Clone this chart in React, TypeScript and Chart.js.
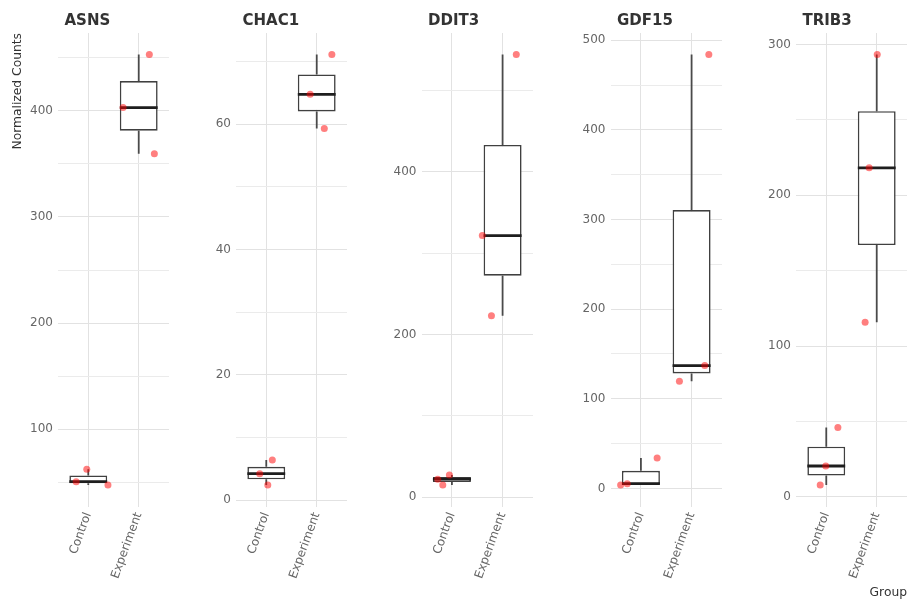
import React, { useEffect, useRef } from "react";
import { Chart, registerables } from "chart.js";

Chart.register(...registerables);

// ---------- data ----------
const genes = ["ASNS", "CHAC1", "DDIT3", "GDF15", "TRIB3"];
const groups = ["Control", "Experiment"];

// normalized counts per sample
const asnsControl = [62.3, 50.6, 47.5];
const asnsExperiment = [453, 403, 359.5];
const chac1Control = [6.4, 4.2, 2.4];
const chac1Experiment = [71.1, 64.75, 59.3];
const ddit3Control = [27.4, 22.2, 15.1];
const ddit3Experiment = [544, 321.6, 223];
const gdf15Control = [33.9, 5.2, 3.8];
const gdf15Experiment = [484, 137, 119.5];
const trib3Control = [46, 20.4, 7.8];
const trib3Experiment = [293.4, 218.2, 115.7];

// horizontal jitter of each sample point (in category units)
const asnsControlJitter = [-0.03, -0.24, 0.39];
const asnsExperimentJitter = [0.21, -0.31, 0.31];
const chac1ControlJitter = [0.12, -0.13, 0.03];
const chac1ExperimentJitter = [0.3, -0.13, 0.15];
const ddit3ControlJitter = [-0.05, -0.28, -0.18];
const ddit3ExperimentJitter = [0.27, -0.4, -0.22];
const gdf15ControlJitter = [0.32, -0.27, -0.4];
const gdf15ExperimentJitter = [0.34, 0.26, -0.24];
const trib3ControlJitter = [0.23, -0.01, -0.12];
const trib3ExperimentJitter = [0.01, -0.15, -0.23];

// labelled y tick step for each panel (minor grid at half step)
const yMajorStep = [100, 20, 200, 100, 100];

const samples = [
  [asnsControl, asnsExperiment],
  [chac1Control, chac1Experiment],
  [ddit3Control, ddit3Experiment],
  [gdf15Control, gdf15Experiment],
  [trib3Control, trib3Experiment],
];
const jitters = [
  [asnsControlJitter, asnsExperimentJitter],
  [chac1ControlJitter, chac1ExperimentJitter],
  [ddit3ControlJitter, ddit3ExperimentJitter],
  [gdf15ControlJitter, gdf15ExperimentJitter],
  [trib3ControlJitter, trib3ExperimentJitter],
];

// ---------- layout / style ----------
const FONT = '"DejaVu Sans", sans-serif';
const W = 909;
const H = 604;
const PANEL_TOP = 33;
const PANEL_BOTTOM = 506.5;
const panelLeft = [58, 236, 421.5, 610.5, 796];
const PANEL_W = 114;
const BOX_WIDTH = 0.75;
const MAJOR_GRID = "#e2e2e2";
const MINOR_GRID = "#ebebeb";
const AXIS_TITLE_SIZE = 12.3;

function quantile(sorted: number[], p: number) {
  const h = (sorted.length - 1) * p;
  const lo = Math.floor(h);
  const hi = Math.ceil(h);
  return sorted[lo] + (h - lo) * (sorted[hi] - sorted[lo]);
}

function boxStats(vals: number[]) {
  const s = [...vals].sort((a, b) => a - b);
  const q1 = quantile(s, 0.25);
  const med = quantile(s, 0.5);
  const q3 = quantile(s, 0.75);
  const iqr = q3 - q1;
  const inside = s.filter((v) => v >= q1 - 1.5 * iqr && v <= q3 + 1.5 * iqr);
  return { lo: Math.min(...inside), q1, med, q3, hi: Math.max(...inside) };
}

const panelTitlePlugin = {
  id: "panelTitle",
  afterDraw(chart: any, _args: any, opts: any) {
    const { ctx, chartArea } = chart;
    ctx.save();
    ctx.font = `bold 15px ${FONT}`;
    ctx.fillStyle = "#333333";
    ctx.textAlign = "left";
    ctx.textBaseline = "alphabetic";
    ctx.fillText(opts.text, chartArea.left + 6.5, chartArea.top - 8.5);
    ctx.restore();
  },
};

function Panel({ i }: { i: number }) {
  const ref = useRef<HTMLCanvasElement>(null);
  const isFirst = i === 0;
  const isLast = i === genes.length - 1;
  const axisW = isFirst ? panelLeft[i] : 45;
  const canvasLeft = Math.floor(panelLeft[i] - axisW);
  const yAxisW = panelLeft[i] - canvasLeft;
  const canvasW = Math.ceil(yAxisW + PANEL_W) + 1;
  const rightPad = canvasW - yAxisW - PANEL_W;

  useEffect(() => {
    if (!ref.current) return;
    const groupVals = samples[i];
    const stats = groupVals.map((v) => boxStats(v));
    const all = groupVals.flat();
    const lo = Math.min(...all);
    const hi = Math.max(...all);
    const pad = (hi - lo) * 0.05;
    const yMin = lo - pad;
    const yMax = hi + pad;
    const major = yMajorStep[i];
    const minor = major / 2;
    const yTicks: number[] = [];
    for (let v = Math.ceil(yMin / minor) * minor; v <= yMax; v += minor) yTicks.push(v);
    const isMajor = (v: number) => Math.abs(v % major) < 1e-9;

    const boxData = stats.map((s, g) => ({ x: g + 1, y: [s.q1, s.q3] }));
    const whiskerData: any[] = [];
    stats.forEach((s, g) => {
      whiskerData.push(
        { x: g + 1, y: s.q3 },
        { x: g + 1, y: s.hi },
        { x: g + 1, y: null },
        { x: g + 1, y: s.q1 },
        { x: g + 1, y: s.lo },
        { x: g + 1, y: null }
      );
    });
    const medianData: any[] = [];
    stats.forEach((s, g) => {
      medianData.push(
        { x: g + 1 - BOX_WIDTH / 2, y: s.med },
        { x: g + 1 + BOX_WIDTH / 2, y: s.med },
        { x: g + 1, y: null }
      );
    });
    const pointData: any[] = [];
    groupVals.forEach((vals, g) =>
      vals.forEach((v, k) => pointData.push({ x: g + 1 + jitters[i][g][k], y: v }))
    );

    const chart = new Chart(ref.current, {
      type: "scatter",
      data: {
        datasets: [
          {
            type: "scatter",
            data: pointData,
            backgroundColor: "rgba(255,0,0,0.5)",
            borderWidth: 0,
            pointRadius: 3.5,
            order: 1,
          } as any,
          {
            type: "line",
            data: medianData,
            borderColor: "#1e1e1e",
            borderWidth: 2.8,
            pointRadius: 0,
            fill: false,
            spanGaps: false,
            borderCapStyle: "butt",
            order: 2,
          } as any,
          {
            type: "bar",
            data: boxData,
            backgroundColor: "#ffffff",
            borderColor: "#404040",
            borderWidth: 1.6,
            borderSkipped: false,
            barPercentage: BOX_WIDTH,
            categoryPercentage: 1,
            order: 3,
          } as any,
          {
            type: "line",
            data: whiskerData,
            borderColor: "#4a4a4a",
            borderWidth: 1.8,
            pointRadius: 0,
            fill: false,
            spanGaps: false,
            borderCapStyle: "butt",
            order: 4,
          } as any,
        ],
      },
      options: {
        responsive: false,
        animation: false,
        events: [],
        layout: { padding: { top: PANEL_TOP, left: 0, right: rightPad, bottom: 0 } },
        plugins: {
          legend: { display: false },
          tooltip: { enabled: false },
          panelTitle: { text: genes[i] },
        } as any,
        scales: {
          x: {
            type: "linear",
            min: 0.4,
            max: 2.6,
            bounds: "data",
            offset: false,
            afterBuildTicks: (s: any) => {
              s.ticks = groups.map((_, g) => ({ value: g + 1 }));
            },
            afterFit: (s: any) => {
              s.height = H - PANEL_BOTTOM;
              s.paddingLeft = 0;
              s.paddingRight = 0;
            },
            ticks: {
              callback: (v: any) => groups[Math.round(Number(v)) - 1] ?? "",
              autoSkip: false,
              minRotation: 70,
              maxRotation: 70,
              padding: 4,
              color: "#666666",
              font: { size: 12, family: FONT },
            },
            grid: { color: MAJOR_GRID, lineWidth: 1, drawTicks: false, offset: false },
            border: { display: false },
            title: isLast
              ? {
                  display: true,
                  text: "Group",
                  align: "end",
                  color: "#333333",
                  font: { size: AXIS_TITLE_SIZE, family: FONT },
                  padding: { top: 0, bottom: 3.6 },
                }
              : { display: false },
          } as any,
          y: {
            type: "linear",
            min: yMin,
            max: yMax,
            bounds: "data",
            afterBuildTicks: (s: any) => {
              s.ticks = yTicks.map((v) => ({ value: v }));
            },
            afterFit: (s: any) => {
              s.width = yAxisW;
            },
            ticks: {
              callback: (v: any) => (isMajor(Number(v)) ? String(Math.round(Number(v))) : ""),
              autoSkip: false,
              padding: 5,
              color: "#666666",
              font: { size: 12, family: FONT },
            },
            grid: {
              color: (ctx: any) =>
                ctx.tick && !isMajor(ctx.tick.value) ? MINOR_GRID : MAJOR_GRID,
              lineWidth: 1,
              drawTicks: false,
              offset: false,
            },
            border: { display: false },
            title: isFirst
              ? {
                  display: true,
                  text: "Normalized Counts",
                  align: "end",
                  color: "#333333",
                  font: { size: AXIS_TITLE_SIZE, family: FONT },
                  padding: { top: 10.6, bottom: 0 },
                }
              : { display: false },
          } as any,
        },
      },
      plugins: [panelTitlePlugin as any],
    });
    return () => chart.destroy();
  }, [i]);

  return (
    <canvas
      ref={ref}
      width={canvasW}
      height={H}
      style={{ position: "absolute", left: canvasLeft, top: 0 }}
    />
  );
}

export default function App() {
  return (
    <div
      style={{
        position: "fixed",
        left: 0,
        top: 0,
        width: W,
        height: H,
        overflow: "hidden",
        background: "#ffffff",
      }}
    >
      {genes.map((_, i) => (
        <Panel key={i} i={i} />
      ))}
    </div>
  );
}
